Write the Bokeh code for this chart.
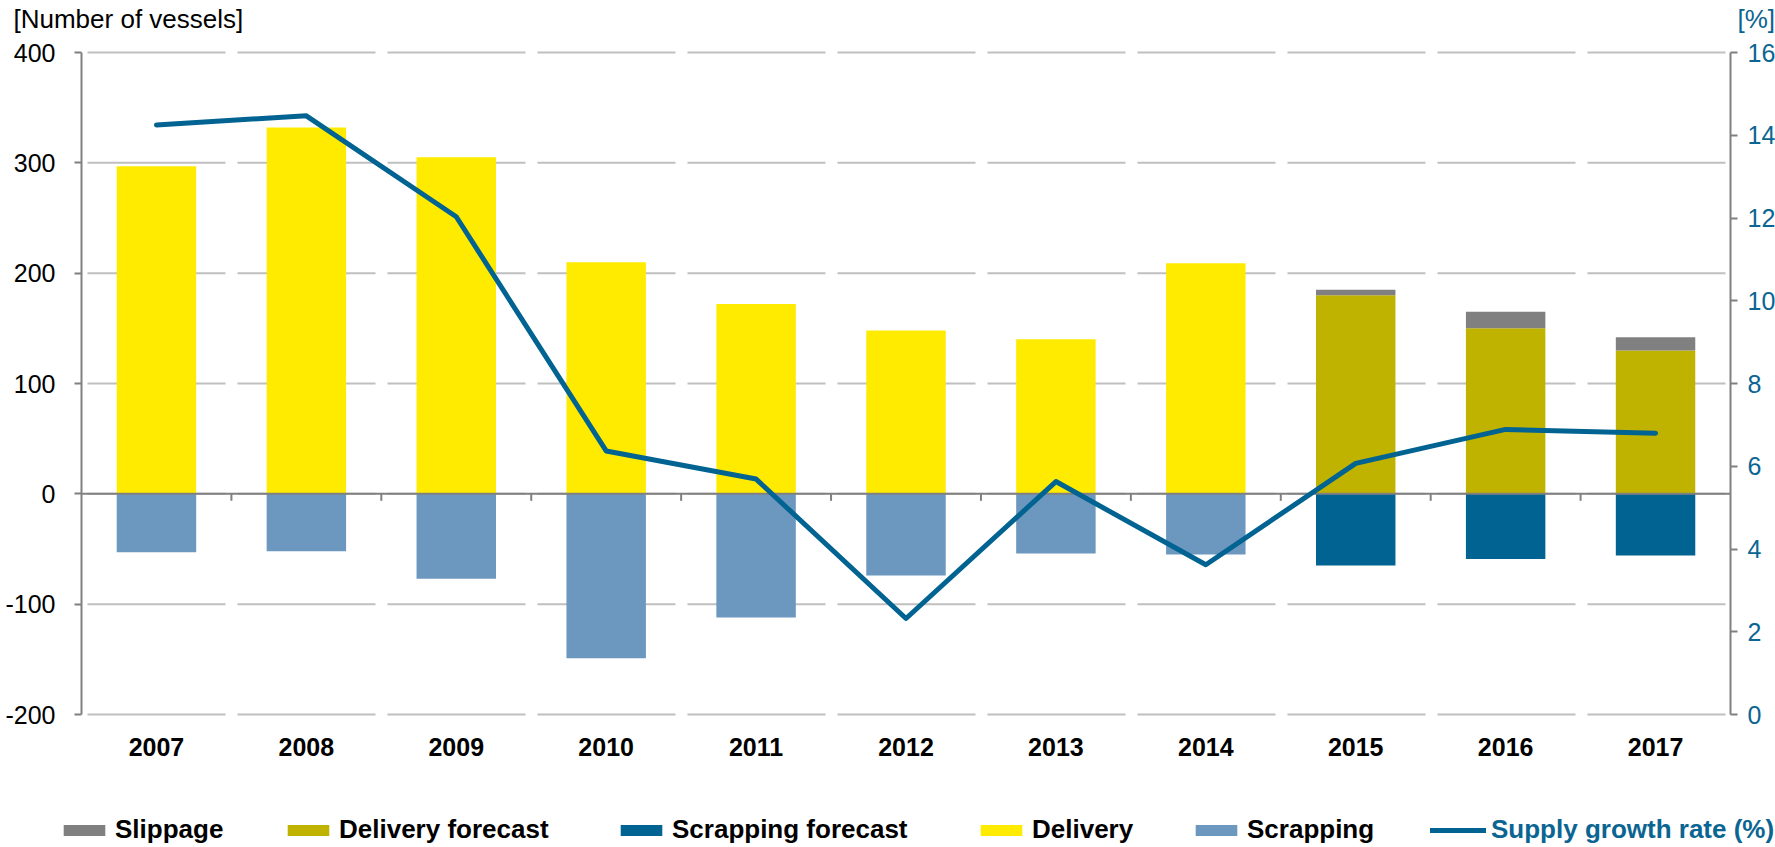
from bokeh.plotting import figure
from bokeh.models import (Range1d, LinearAxis, FixedTicker, Legend, LegendItem, Label)
from bokeh.embed import file_html
from bokeh.resources import INLINE

# ---------------- data ----------------
years = ["2007", "2008", "2009", "2010", "2011", "2012", "2013", "2014", "2015", "2016", "2017"]
actual_years = ["2007", "2008", "2009", "2010", "2011", "2012", "2013", "2014"]
forecast_years = ["2015", "2016", "2017"]
delivery = [297, 332, 305, 210, 172, 148, 140, 209]
scrapping = [-53, -52, -77, -149, -112, -74, -54, -55]
delivery_forecast = [180, 150, 130]
slippage = [5, 15, 12]
scrapping_forecast = [-65, -59, -56]
growth_rate = [14.25, 14.47, 12.03, 6.37, 5.69, 2.32, 5.63, 3.62, 6.07, 6.89, 6.80]
left_ticks = [-200, -100, 0, 100, 200, 300, 400]
right_ticks = [0, 2, 4, 6, 8, 10, 12, 14, 16]

FONT = "Liberation Sans"
BLUE = "#0B6592"
LINE = "#006391"
GRAY = "#808080"

# ---------------- layout (pixels) ----------------
W, H = 1775, 847
FL, FR, FT, FB = 81, 1730, 52, 714          # plot area edges on the canvas
n = len(years)
xs0, xs1 = -0.5, n - 0.5
ppx = (FR - FL) / (xs1 - xs0)
ymin, ymax = left_ticks[0], left_ticks[-1]
ppy = (FB - FT) / (ymax - ymin)
pmin, pmax = right_ticks[0], right_ticks[-1]
ppp = (FB - FT) / (pmax - pmin)

x_range = Range1d(xs0 - FL / ppx, xs1 + (W - FR) / ppx)
y_range = Range1d(ymin - (H - FB) / ppy, ymax + FT / ppy)

idx = {y: i for i, y in enumerate(years)}
xa = [idx[y] for y in actual_years]
xf = [idx[y] for y in forecast_years]

p = figure(width=W, height=H, output_backend="svg", toolbar_location=None,
           x_range=x_range, y_range=y_range,
           min_border_left=0, min_border_right=0, min_border_top=0, min_border_bottom=0)
p.outline_line_color = None
p.background_fill_color = "white"
p.border_fill_color = "white"
p.extra_y_ranges = {"pct": Range1d(pmin - (H - FB) / ppp, pmax + FT / ppp)}
p.xgrid.visible = False
p.ygrid.visible = False

# gridlines (dashed, gaps at category boundaries)
p.segment(x0=[xs0] * len(left_ticks), x1=[xs1] * len(left_ticks), y0=left_ticks, y1=left_ticks,
          line_color="#C0C0C0", line_width=2, line_dash="138 12", line_dash_offset=144)

# bars
bw = 0.53
r_del = p.vbar(x=xa, top=delivery, bottom=0, width=bw, fill_color="#FFEB00", line_color=None)
r_scr = p.vbar(x=xa, top=scrapping, bottom=0, width=bw, fill_color="#6C97BF", line_color=None)
r_df = p.vbar(x=xf, top=delivery_forecast, bottom=0, width=bw, fill_color="#BFB300", line_color=None)
r_slip = p.vbar(x=xf, top=[d + s for d, s in zip(delivery_forecast, slippage)], bottom=delivery_forecast,
                width=bw, fill_color=GRAY, line_color=None)
r_sf = p.vbar(x=xf, top=scrapping_forecast, bottom=0, width=bw, fill_color="#006391", line_color=None)

# zero axis line + category boundary ticks
p.segment(x0=[xs0], x1=[xs1], y0=[0], y1=[0], line_color=GRAY, line_width=2)
tick_len = 7 / ppy
bx = [i + 0.5 for i in range(n - 1)]
p.segment(x0=bx, x1=bx, y0=[0] * len(bx), y1=[-tick_len] * len(bx), line_color=GRAY, line_width=2)

# growth line
r_line = p.line(x=list(range(n)), y=growth_rate, y_range_name="pct", line_color=LINE,
                line_width=5, line_cap="round", line_join="round")

# axes
xax = p.xaxis[0]
xax.fixed_location = ymin
xax.ticker = FixedTicker(ticks=list(range(n)))
xax.major_label_overrides = {i: y for i, y in enumerate(years)}
xax.axis_line_color = None
xax.major_tick_line_color = None
xax.minor_tick_line_color = None
xax.major_tick_out = 0
xax.major_label_standoff = 23
xax.major_label_text_font = FONT
xax.major_label_text_font_style = "bold"
xax.major_label_text_font_size = "25px"
xax.major_label_text_color = "black"

yax = p.yaxis[0]
yax.fixed_location = xs0
yax.bounds = (ymin, ymax)
yax.ticker = FixedTicker(ticks=left_ticks)
yax.major_label_overrides = {t: str(t) for t in left_ticks}
yax.axis_line_color = GRAY
yax.axis_line_width = 2
yax.major_tick_line_color = GRAY
yax.major_tick_line_width = 2
yax.major_tick_out = 7
yax.major_tick_in = 0
yax.minor_tick_line_color = None
yax.major_label_standoff = 19
yax.major_label_text_font = FONT
yax.major_label_text_font_size = "25px"
yax.major_label_text_color = "black"

rax = LinearAxis(y_range_name="pct", ticker=FixedTicker(ticks=right_ticks))
rax.fixed_location = xs1
rax.bounds = (pmin, pmax)
rax.axis_line_color = GRAY
rax.axis_line_width = 2
rax.major_tick_line_color = GRAY
rax.major_tick_line_width = 2
rax.major_tick_out = 7
rax.major_tick_in = 0
rax.minor_tick_line_color = None
rax.major_label_standoff = 10
rax.major_label_text_font = FONT
rax.major_label_text_font_size = "25px"
rax.major_label_text_color = BLUE
p.add_layout(rax, "right")

# axis titles
p.add_layout(Label(x=13, y=H - 3, x_units="screen", y_units="screen", text="[Number of vessels]",
                   text_font=FONT, text_font_size="26px", text_color="black", text_baseline="top"))
p.add_layout(Label(x=1737, y=H - 3, x_units="screen", y_units="screen", text="[%]",
                   text_font=FONT, text_font_size="26px", text_color=BLUE, text_baseline="top"))

# legends
leg_specs = [("Slippage", r_slip, 58, "black", 52),
             ("Delivery forecast", r_df, 282, "black", 52),
             ("Scrapping forecast", r_sf, 615, "black", 52),
             ("Delivery", r_del, 975, "black", 52),
             ("Scrapping", r_scr, 1190, "black", 52),
             ("Supply growth rate (%)", r_line, 1430, BLUE, 56)]
for label, r, lx, col, gw in leg_specs:
    lg = Legend(items=[LegendItem(label=label, renderers=[r])], location=(lx, 2),
                orientation="horizontal", glyph_width=gw, glyph_height=14, label_standoff=5,
                padding=0, margin=0, spacing=0, border_line_color=None, background_fill_alpha=0,
                label_text_font=FONT, label_text_font_style="bold", label_text_font_size="26px",
                label_text_color=col, label_height=20)
    p.add_layout(lg, "center")

open("out.html", "w").write(file_html(p, INLINE))
